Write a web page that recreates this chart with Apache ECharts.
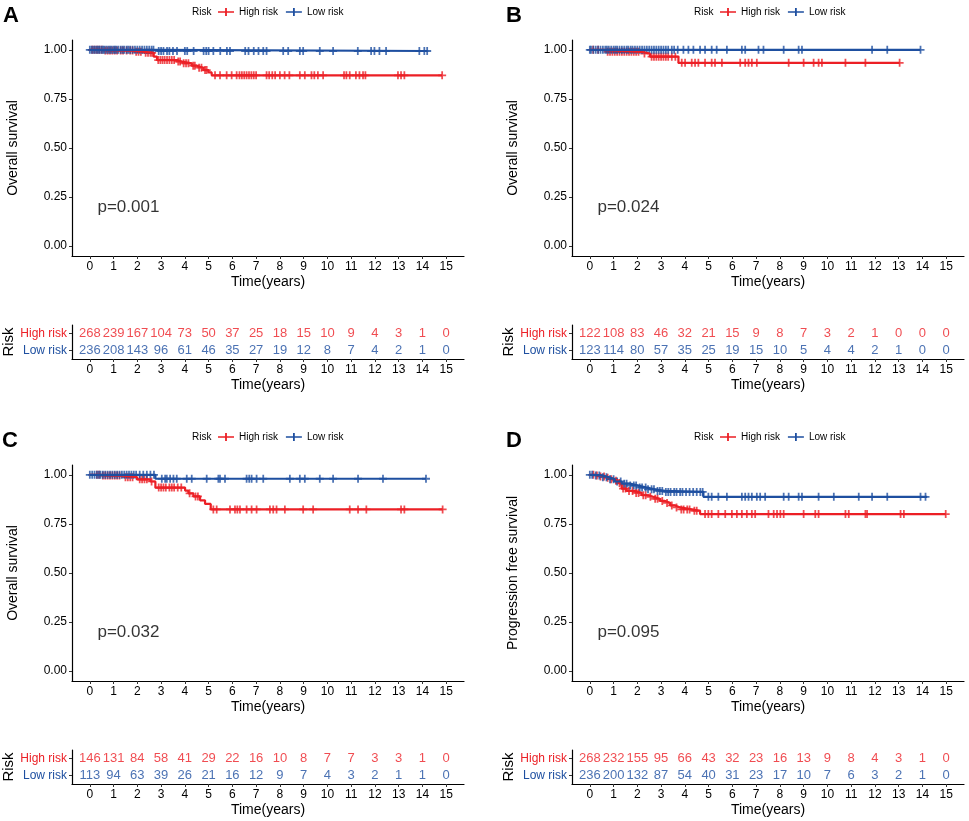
<!DOCTYPE html>
<html>
<head>
<meta charset="utf-8">
<script src="https://cdn.jsdelivr.net/npm/echarts@6/dist/echarts.min.js"></script>
<style>
html,body{margin:0;padding:0;background:#fff;}
#chart{width:969px;height:821px;}
</style>
</head>
<body>
<div id="chart"></div>
<script>
// ---------- tick labels ----------
const xTicks = [0,1,2,3,4,5,6,7,8,9,10,11,12,13,14,15];
const yTicks = [0,0.25,0.5,0.75,1];
const riskRows = ['Low risk','High risk'];

// ---------- Panel A (Overall survival) ----------
const aHighT = [0,0.59,1.85,2.27,2.69,2.83,3.66,3.87,4.29,4.5,4.78,4.99,5.13];
const aHighS = [1,0.996,0.99,0.985,0.965,0.948,0.94,0.931,0.919,0.909,0.897,0.885,0.870];
const aHighEnd = 14.83;
const aHighCens = [0.1,0.2,0.3,0.4,0.5,0.65,0.75,0.85,0.95,1.05,1.15,1.3,1.4,1.55,1.7,1.8,1.95,2.05,2.15,2.35,2.45,2.55,2.62,
  2.88,2.97,3.06,3.15,3.25,3.35,3.45,3.55,3.72,3.8,3.95,4.05,4.15,4.35,4.42,4.6,4.7,4.85,4.92,
  5.27,5.48,5.76,5.97,6.18,6.3,6.4,6.5,6.6,6.7,6.8,6.9,7.0,7.44,7.55,7.68,7.8,8.0,8.2,8.4,8.84,9.05,9.33,9.45,9.6,9.82,
  10.7,10.8,10.94,11.2,11.35,11.5,11.6,12.97,13.1,13.24,14.83];
const aLowT = [0,2.7];
const aLowS = [1,0.994];
const aLowEnd = 14.2;
const aLowCens = [0.0,0.08,0.15,0.22,0.3,0.36,0.42,0.5,0.56,0.62,0.7,0.78,0.85,0.92,1.0,1.06,1.12,1.2,1.3,1.38,1.45,1.55,1.62,1.7,1.8,1.9,2.0,2.1,2.2,2.3,2.4,2.5,2.6,2.68,
  2.9,3.0,3.1,3.25,3.35,3.5,3.67,4.0,4.1,4.37,4.79,4.9,5.0,5.2,5.49,5.77,5.9,6.54,6.68,6.9,7.1,7.3,7.44,8.14,8.35,8.84,8.98,
  9.68,10.24,11.28,11.84,11.98,12.19,12.47,13.87,14.08,14.2];
const aHighN = [268,239,167,104,73,50,37,25,18,15,10,9,4,3,1,0];
const aLowN  = [236,208,143,96,61,46,35,27,19,12,8,7,4,2,1,0];

// ---------- Panel B (Overall survival) ----------
const bHighT = [0,0.56,2.18,2.53,3.73];
const bHighS = [1,0.99,0.981,0.965,0.934];
const bHighEnd = 13.04;
const bHighCens = [0.14,0.35,0.75,0.85,0.95,1.05,1.15,1.25,1.35,1.45,1.55,1.65,1.75,1.85,1.95,2.05,
  2.3,2.6,2.7,2.8,2.9,3.0,3.1,3.2,3.3,3.45,3.6,3.87,4.01,4.29,4.43,4.57,4.85,5.13,5.27,5.56,
  6.33,6.54,6.68,6.82,7.03,8.37,9.0,9.42,9.63,9.77,10.76,11.6,13.04];
const bLowT = [0];
const bLowS = [1];
const bLowEnd = 13.92;
const bLowCens = [0.0,0.05,0.15,0.25,0.35,0.45,0.55,0.65,0.72,0.8,0.9,1.0,1.08,1.15,1.25,1.35,1.45,1.55,1.62,1.72,1.8,1.9,2.0,2.1,2.2,2.3,2.4,2.5,2.6,2.7,2.8,2.9,3.0,3.1,3.2,3.3,3.45,3.55,3.7,
  3.94,4.15,4.36,4.64,4.85,5.13,5.34,5.77,6.4,6.54,7.1,7.31,8.16,8.79,8.93,11.88,12.52,13.92];
const bHighN = [122,108,83,46,32,21,15,9,8,7,3,2,1,0,0,0];
const bLowN  = [123,114,80,57,35,25,19,15,10,5,4,4,2,1,0,0];

// ---------- Panel C (Overall survival) ----------
const cHighT = [0,0.45,1.43,1.99,2.55,2.76,4.01,4.15,4.36,4.64,4.85,5.09];
const cHighS = [1,0.996,0.988,0.977,0.966,0.935,0.92,0.906,0.89,0.87,0.852,0.824];
const cHighEnd = 14.85;
const cHighCens = [0.3,0.4,0.55,0.65,0.75,0.85,0.95,1.05,1.15,1.25,1.5,1.6,1.7,1.8,2.1,2.2,2.3,2.4,2.6,
  2.9,3.0,3.1,3.2,3.35,3.45,3.55,3.7,3.85,4.2,4.45,4.55,5.2,5.34,5.9,6.11,6.21,6.32,6.6,6.81,7.02,7.58,7.72,7.86,8.21,
  8.98,9.4,10.94,11.29,11.64,13.1,13.24,14.85];
const cLowT = [0,2.76];
const cLowS = [1,0.98];
const cLowEnd = 14.15;
const cLowCens = [0.0,0.1,0.2,0.3,0.38,0.45,0.55,0.65,0.75,0.85,0.95,1.05,1.15,1.25,1.35,1.45,1.55,1.65,1.75,1.85,1.95,2.1,2.25,2.4,2.55,2.7,
  3.03,3.17,3.24,3.38,3.52,3.66,4.08,4.29,4.92,5.41,5.48,5.69,6.6,6.71,6.81,7.02,7.3,8.42,8.84,9.05,9.68,10.24,11.29,12.34,14.15];
const cHighN = [146,131,84,58,41,29,22,16,10,8,7,7,3,3,1,0];
const cLowN  = [113,94,63,39,26,21,16,12,9,7,4,3,2,1,1,0];

// ---------- Panel D (Progression free survival) ----------
const dHighT = [0,0.21,0.42,0.63,0.84,1.05,1.2,1.34,1.55,1.9,2.18,2.46,2.67,2.95,3.16,3.38,3.59,3.8,4.29,4.64];
const dHighS = [1,0.997,0.992,0.985,0.978,0.97,0.958,0.93,0.918,0.908,0.896,0.888,0.878,0.867,0.857,0.844,0.834,0.824,0.817,0.80];
const dHighEnd = 14.98;
const dHighCens = [0.15,0.3,0.45,0.6,0.75,0.9,1.1,1.25,1.4,1.5,1.65,1.8,1.95,2.05,2.25,2.35,2.55,2.75,2.85,3.05,3.25,3.45,3.65,3.85,3.95,4.1,4.2,4.4,4.5,
  4.85,4.99,5.13,5.41,5.7,5.98,6.19,6.4,6.61,6.82,6.96,7.52,7.74,7.88,8.02,8.16,9.0,9.49,9.63,10.76,10.9,11.6,11.67,13.08,13.22,14.98];
const dLowT = [0,0.21,0.49,0.77,1.05,1.34,1.69,2.04,2.39,2.74,3.16,4.78];
const dLowS = [1,0.997,0.988,0.978,0.966,0.955,0.945,0.935,0.926,0.918,0.913,0.888];
const dLowEnd = 14.2;
const dLowCens = [0.0,0.1,0.25,0.4,0.55,0.7,0.85,1.0,1.15,1.3,1.45,1.55,1.7,1.85,1.95,2.1,2.2,2.35,2.45,2.6,2.7,2.85,2.95,3.05,3.2,3.3,3.4,3.55,3.65,3.8,3.9,4.05,4.2,4.35,4.5,4.65,4.75,
  4.99,5.13,5.41,5.77,6.4,6.54,6.68,6.82,7.03,7.17,7.38,8.16,8.37,8.79,8.93,9.63,10.27,11.32,11.88,12.52,13.92,14.13];
const dHighN = [268,232,155,95,66,43,32,23,16,13,9,8,4,3,1,0];
const dLowN  = [236,200,132,87,54,40,31,23,17,10,7,6,3,2,1,0];

const pValues = ['p=0.001','p=0.024','p=0.032','p=0.095'];
const yTitles = ['Overall survival','Overall survival','Overall survival','Progression free survival'];
const letters = ['A','B','C','D'];

// ---------- styling / layout ----------
const RED = '#EC1F25';
const BLUE = '#1E4FA0';
const FONT = 'Liberation Sans, Arial, Helvetica, sans-serif';
const PLUS = 'path://M3.9,0H6.1V3.9H10V6.1H6.1V10H3.9V6.1H0V3.9H3.9Z';
const LEGEND_ICON = 'path://M0,3.2H7.1V0H8.9V3.2H16V4.8H8.9V8H7.1V4.8H0Z';

const layout = [
  {gx:72,  gy:40,  ty:325, lx:3,   ly:17,  legX:218, legY:7},
  {gx:572, gy:40,  ty:325, lx:506, ly:17,  legX:720, legY:7},
  {gx:72,  gy:465, ty:750, lx:2,   ly:442, legX:218, legY:432},
  {gx:572, gy:465, ty:750, lx:506, ly:442, legX:720, legY:432}
];
const panelData = [
  {hT:aHighT,hS:aHighS,hE:aHighEnd,hC:aHighCens,lT:aLowT,lS:aLowS,lE:aLowEnd,lC:aLowCens,hN:aHighN,lN:aLowN},
  {hT:bHighT,hS:bHighS,hE:bHighEnd,hC:bHighCens,lT:bLowT,lS:bLowS,lE:bLowEnd,lC:bLowCens,hN:bHighN,lN:bLowN},
  {hT:cHighT,hS:cHighS,hE:cHighEnd,hC:cHighCens,lT:cLowT,lS:cLowS,lE:cLowEnd,lC:cLowCens,hN:cHighN,lN:cLowN},
  {hT:dHighT,hS:dHighS,hE:dHighEnd,hC:dHighCens,lT:dLowT,lS:dLowS,lE:dLowEnd,lC:dLowCens,hN:dHighN,lN:dLowN}
];

function stepData(ts, ss, end){
  const d = ts.map((t,i)=>[t, ss[i]]);
  d.push([end, ss[ss.length-1]]);
  return d;
}
function censorData(ts, ss, cens){
  return cens.map(c=>{
    let s = ss[0];
    for(let i=0;i<ts.length;i++){ if(ts[i] <= c) s = ss[i]; }
    return [c, s];
  });
}

const grids = [], xAxes = [], yAxes = [], series = [], legends = [], graphics = [];
const axisLineStyle = {color:'#000', width:1.2};
const tickStyle = {show:true, inside:false, length:3, lineStyle:{color:'#333', width:1}};

layout.forEach((L, k)=>{
  const P = panelData[k];
  const gMain = k*2, gTab = k*2+1;
  grids.push({left:L.gx, top:L.gy, width:392, height:216});
  grids.push({left:L.gx, top:L.ty, width:392, height:34});

  // main axes
  xAxes.push({
    gridIndex:gMain, type:'value', min:-0.75, max:15.75,
    axisLine:{show:true, onZero:false, lineStyle:axisLineStyle},
    axisTick:Object.assign({customValues:xTicks}, tickStyle),
    axisLabel:{customValues:xTicks, margin:5, fontSize:12, color:'#000', fontFamily:FONT},
    splitLine:{show:false},
    name:'Time(years)', nameLocation:'middle', nameGap:19,
    nameTextStyle:{fontSize:14, color:'#000', fontFamily:FONT}
  });
  yAxes.push({
    gridIndex:gMain, type:'value', min:-0.05, max:1.05,
    axisLine:{show:true, onZero:false, lineStyle:axisLineStyle},
    axisTick:Object.assign({customValues:yTicks}, tickStyle),
    axisLabel:{customValues:yTicks, margin:5, fontSize:12, color:'#000', fontFamily:FONT,
      formatter:(v)=>Number(v).toFixed(2)},
    splitLine:{show:false},
    name:yTitles[k], nameLocation:'middle', nameGap:52,
    nameTextStyle:{fontSize:14, color:'#000', fontFamily:FONT}
  });
  // table axes
  xAxes.push({
    gridIndex:gTab, type:'value', min:-0.75, max:15.75,
    axisLine:{show:true, onZero:false, lineStyle:axisLineStyle},
    axisTick:Object.assign({customValues:xTicks}, tickStyle),
    axisLabel:{customValues:xTicks, margin:5, fontSize:12, color:'#000', fontFamily:FONT},
    splitLine:{show:false},
    name:'Time(years)', nameLocation:'middle', nameGap:19,
    nameTextStyle:{fontSize:14, color:'#000', fontFamily:FONT}
  });
  yAxes.push({
    gridIndex:gTab, type:'category', data:riskRows,
    axisLine:{show:true, onZero:false, lineStyle:axisLineStyle},
    axisTick:{show:true, alignWithLabel:true, length:3, lineStyle:{color:'#333'}},
    axisLabel:{margin:5, fontSize:12, fontFamily:FONT,
      color:(v)=> v === 'High risk' ? RED : BLUE},
    splitLine:{show:false},
    name:'Risk', nameLocation:'middle', nameGap:50,
    nameTextStyle:{fontSize:15, color:'#000', fontFamily:FONT}
  });

  // curves
  series.push({
    name:'High risk', type:'line', step:'end', xAxisIndex:gMain, yAxisIndex:gMain,
    data:stepData(P.hT, P.hS, P.hE), showSymbol:false, symbol:'none',
    color:RED, lineStyle:{color:RED, width:2.2}, silent:true, animation:false
  });
  series.push({
    name:'High risk', type:'scatter', xAxisIndex:gMain, yAxisIndex:gMain,
    data:censorData(P.hT, P.hS, P.hC), symbol:PLUS, symbolSize:8,
    color:RED, itemStyle:{color:RED}, silent:true, animation:false
  });
  series.push({
    name:'Low risk', type:'line', step:'end', xAxisIndex:gMain, yAxisIndex:gMain,
    data:stepData(P.lT, P.lS, P.lE), showSymbol:false, symbol:'none',
    color:BLUE, lineStyle:{color:BLUE, width:2.2}, silent:true, animation:false
  });
  series.push({
    name:'Low risk', type:'scatter', xAxisIndex:gMain, yAxisIndex:gMain,
    data:censorData(P.lT, P.lS, P.lC), symbol:PLUS, symbolSize:8,
    color:BLUE, itemStyle:{color:BLUE}, silent:true, animation:false
  });
  // p-value
  series.push({
    name:'pval'+k, type:'scatter', xAxisIndex:gMain, yAxisIndex:gMain,
    data:[[0.3, 0.2]], symbolSize:1, itemStyle:{color:'rgba(0,0,0,0)'},
    label:{show:true, position:'right', distance:0, formatter:pValues[k],
      fontSize:17, color:'#000', fontFamily:FONT},
    silent:true, animation:false
  });
  // risk table numbers
  series.push({
    name:'tabH'+k, type:'scatter', xAxisIndex:gTab, yAxisIndex:gTab,
    data:xTicks.map((t,i)=>[t, 'High risk', P.hN[i]]), symbolSize:1,
    itemStyle:{color:'rgba(0,0,0,0)'},
    label:{show:true, position:'inside', formatter:(p)=>String(p.value[2]),
      fontSize:13, color:RED, fontFamily:FONT},
    silent:true, animation:false
  });
  series.push({
    name:'tabL'+k, type:'scatter', xAxisIndex:gTab, yAxisIndex:gTab,
    data:xTicks.map((t,i)=>[t, 'Low risk', P.lN[i]]), symbolSize:1,
    itemStyle:{color:'rgba(0,0,0,0)'},
    label:{show:true, position:'inside', formatter:(p)=>String(p.value[2]),
      fontSize:13, color:BLUE, fontFamily:FONT},
    silent:true, animation:false
  });

  legends.push({
    left:L.legX, top:L.legY, orient:'horizontal', itemWidth:16, itemHeight:8, itemGap:8,
    selectedMode:false, padding:0,
    textStyle:{fontSize:10, color:'#000', fontFamily:FONT},
    data:[{name:'High risk', icon:LEGEND_ICON, itemStyle:{color:RED}},
          {name:'Low risk', icon:LEGEND_ICON, itemStyle:{color:BLUE}}]
  });
  graphics.push({type:'text', left:L.legX-26, top:L.legY, style:{text:'Risk', fontSize:10, fill:'#000', fontFamily:FONT}});
  graphics.push({type:'text', left:L.lx, top:L.ly-12, style:{text:letters[k], fontSize:22, fontWeight:'bold', fill:'#000', fontFamily:FONT}});
});

const chart = echarts.init(document.getElementById('chart'), null, {renderer:'canvas'});
chart.setOption({
  backgroundColor:'#fff',
  animation:false,
  textStyle:{fontFamily:FONT},
  grid:grids, xAxis:xAxes, yAxis:yAxes, series:series, legend:legends, graphic:graphics
});
</script>
</body>
</html>
